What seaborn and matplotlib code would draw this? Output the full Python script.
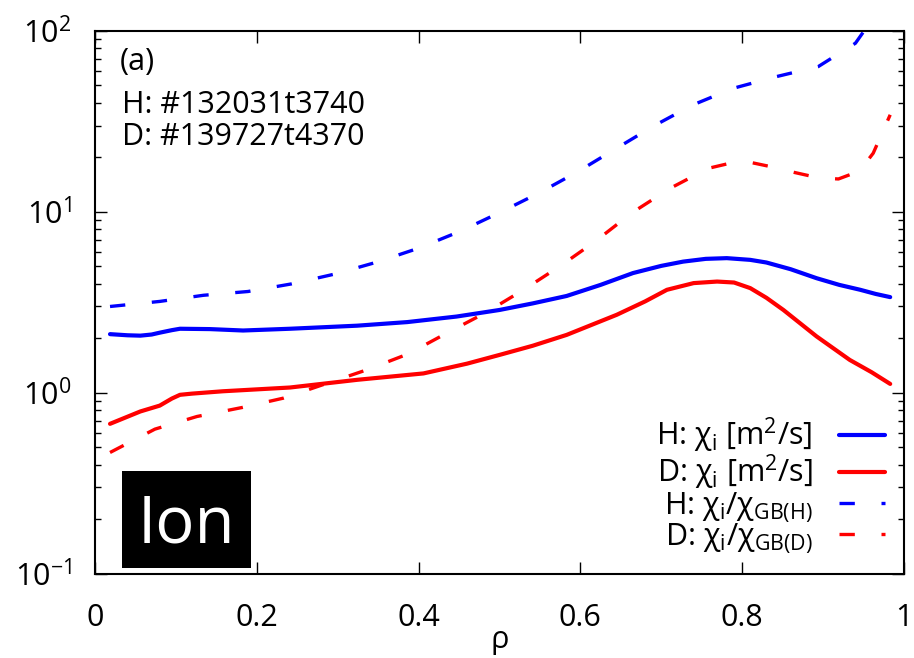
import matplotlib
matplotlib.use("Agg")
import matplotlib.pyplot as plt
from matplotlib.patches import Rectangle
from matplotlib.ticker import LogLocator, FixedLocator, FixedFormatter, NullLocator
import seaborn as sns
import pandas as pd

# ion heat diffusivity profiles, H and D discharges
rho_h = [0.0185, 0.04, 0.056, 0.07, 0.08, 0.095, 0.105, 0.142, 0.183, 0.241,
         0.324, 0.386, 0.447, 0.5, 0.541, 0.583, 0.625, 0.665, 0.70, 0.727,
         0.755, 0.781, 0.81, 0.83, 0.86, 0.892, 0.92, 0.946, 0.965, 0.983]
chi_h = [2.11, 2.08, 2.07, 2.10, 2.15, 2.22, 2.26, 2.25, 2.21, 2.26,
         2.35, 2.46, 2.64, 2.87, 3.12, 3.43, 3.95, 4.59, 5.03, 5.31,
         5.5, 5.55, 5.43, 5.25, 4.82, 4.30, 3.95, 3.71, 3.52, 3.38]

rho_d = [0.0185, 0.056, 0.08, 0.095, 0.105, 0.12, 0.158, 0.241, 0.324, 0.406,
         0.46, 0.5, 0.541, 0.583, 0.645, 0.68, 0.707, 0.74, 0.769, 0.79,
         0.81, 0.83, 0.851, 0.892, 0.933, 0.96, 0.983]
chi_d = [0.674, 0.789, 0.85, 0.93, 0.975, 0.99, 1.02, 1.07, 1.18, 1.28,
         1.45, 1.62, 1.82, 2.09, 2.70, 3.20, 3.71, 4.04, 4.12, 4.07,
         3.79, 3.35, 2.87, 2.05, 1.52, 1.30, 1.12]

# normalised to gyro-Bohm diffusivity
rho_h_gb = [0.0185, 0.08, 0.134, 0.189, 0.243, 0.297, 0.348, 0.400, 0.451, 0.5,
            0.55, 0.597, 0.645, 0.691, 0.739, 0.789, 0.843, 0.894, 0.94, 0.983]
chi_h_gb = [3.0, 3.2, 3.46, 3.63, 4.0, 4.54, 5.27, 6.3, 7.8, 9.9,
            12.8, 16.7, 22.5, 29.9, 39.0, 48.2, 56.0, 63.5, 85.5, 160.0]

rho_d_gb = [0.0185, 0.074, 0.126, 0.182, 0.233, 0.282, 0.336, 0.387, 0.435, 0.484,
            0.531, 0.577, 0.618, 0.664, 0.711, 0.758, 0.79, 0.812, 0.84, 0.865,
            0.895, 0.919, 0.945, 0.962, 0.983]
chi_d_gb = [0.468, 0.63, 0.74, 0.83, 0.935, 1.11, 1.34, 1.64, 2.14, 2.79,
            3.74, 5.09, 6.85, 9.9, 13.5, 17.4, 18.8, 18.7, 17.6, 16.5,
            15.4, 15.2, 16.8, 21.1, 34.4]

x_ticks = [0, 0.2, 0.4, 0.6, 0.8, 1.0]
x_tick_labels = ["0", "0.2", "0.4", "0.6", "0.8", "1"]

labels = ["H: χ$_\\mathregular{i}$ [m$^\\mathregular{2}$/s]",
          "D: χ$_\\mathregular{i}$ [m$^\\mathregular{2}$/s]",
          "H: χ$_\\mathregular{i}$/χ$_\\mathregular{GB(H)}$",
          "D: χ$_\\mathregular{i}$/χ$_\\mathregular{GB(D)}$"]

sns.set_style("white")
plt.rcParams["font.family"] = ["Open Sans", "DejaVu Sans"]
plt.rcParams["mathtext.fontset"] = "custom"
plt.rcParams["mathtext.rm"] = "Open Sans"
plt.rcParams["mathtext.it"] = "Open Sans"
plt.rcParams["font.size"] = 22
for key in ["text.color", "axes.labelcolor", "xtick.color", "ytick.color",
            "xtick.labelcolor", "ytick.labelcolor"]:
    plt.rcParams[key] = "black"

fig = plt.figure(figsize=(9.14, 6.58), dpi=100)
ax = fig.add_axes([0.104, 0.128, 0.885, 0.825])

blue = "#0000ff"
red = "#ff0000"
dash = (0, (4.6, 8.0))

series = [
    (rho_h, chi_h, blue, "-", 3.0, labels[0]),
    (rho_d, chi_d, red, "-", 3.0, labels[1]),
    (rho_h_gb, chi_h_gb, blue, dash, 2.4, labels[2]),
    (rho_d_gb, chi_d_gb, red, dash, 2.4, labels[3]),
]
for xs, ys, col, ls, lw, lab in series:
    df = pd.DataFrame({"rho": xs, "chi": ys})
    sns.lineplot(data=df, x="rho", y="chi", ax=ax, color=col, linestyle=ls,
                 linewidth=lw, label=lab, dash_capstyle="butt")

ax.set_yscale("log")
ax.set_xlim(0, 1)
ax.set_ylim(0.1, 100)

ax.xaxis.set_major_locator(FixedLocator(x_ticks))
ax.xaxis.set_major_formatter(FixedFormatter(x_tick_labels))
ax.xaxis.set_minor_locator(NullLocator())
ax.yaxis.set_major_locator(LogLocator(base=10, numticks=10))
ax.yaxis.set_minor_locator(LogLocator(base=10, subs=range(2, 10), numticks=10))

ax.tick_params(axis="both", which="both", direction="in", color="black",
               labelcolor="black", width=1.0)
ax.tick_params(axis="x", which="major", length=8.5, top=True, bottom=True, pad=21)
ax.tick_params(axis="y", which="major", length=8.5, left=True, right=True, pad=17)
ax.tick_params(axis="y", which="minor", length=4.3, left=True, right=True)
for sp in ax.spines.values():
    sp.set_color("black")
    sp.set_linewidth(1.5)

ax.set_xlabel("ρ", labelpad=-6, color="black")
ax.set_ylabel("")

tkw = dict(transform=ax.transAxes, fontsize=22, ha="left", va="baseline",
           color="black")
ax.text(0.031, 0.928, "(a)", **tkw)
ax.text(0.033, 0.849, "H: #132031t3740", **tkw)
ax.text(0.033, 0.790, "D: #139727t4370", **tkw)

ax.add_patch(Rectangle((0.0334, 0.011), 0.1595, 0.1786, transform=ax.transAxes,
                       facecolor="black", edgecolor="none", zorder=5))
ax.text(0.113, 0.057, "Ion", transform=ax.transAxes, color="white",
        fontsize=47, ha="center", va="baseline", zorder=6)

leg = ax.legend(loc="lower right", bbox_to_anchor=(0.976, 0.035), frameon=False,
                markerfirst=False, handlelength=1.5, handletextpad=0.85,
                labelspacing=-0.08, fontsize=22, borderaxespad=0.0, borderpad=0.0)
for t in leg.get_texts():
    t.set_color("black")

fig.savefig("out.png", dpi=100)
